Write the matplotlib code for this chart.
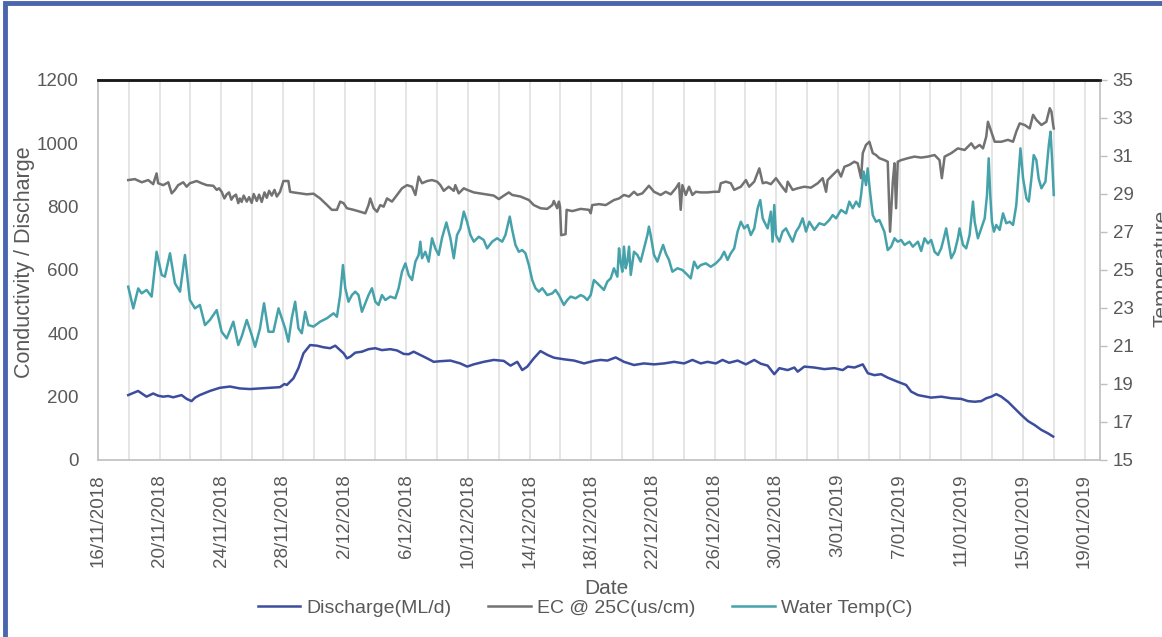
import numpy as np
import pandas as pd
import matplotlib
matplotlib.use('Agg')
import matplotlib.pyplot as plt
from matplotlib.patches import Rectangle
from matplotlib.lines import Line2D

plt.rcParams['font.family'] = ['Liberation Sans', 'DejaVu Sans']

START = '2018-11-16'

# Discharge (ML/d): (day offset from 16/11/2018, value)
disc_day = [1.96, 2.3, 2.6, 2.9, 3.15, 3.58, 3.9, 4.23, 4.55, 4.88, 5.42, 5.75, 6.07, 6.3, 6.6, 7.26, 7.9,
            8.56, 9.2, 9.86, 10.5, 11.16, 11.8, 12.1, 12.25, 12.68, 13.0, 13.33, 13.76, 14.2, 14.63, 15.06,
            15.39, 15.7, 15.93, 16.15, 16.36, 16.69, 17.12, 17.55, 17.99, 18.42, 18.96, 19.4, 19.83, 20.15,
            20.48, 20.9, 21.35, 21.78, 22.2, 22.86, 23.5, 23.95, 24.37, 25.02, 25.67, 26.32, 26.76, 27.2,
            27.52, 27.85, 28.27, 28.7, 29.15, 29.58, 30.23, 30.88, 31.53, 32.18, 32.6, 33.05, 33.58, 34.12,
            34.77, 35.42, 36.07, 36.73, 37.37, 38.02, 38.56, 39.1, 39.54, 40.08, 40.51, 40.94, 41.49, 42.03,
            42.57, 43.0, 43.44, 43.87, 44.2, 44.74, 45.17, 45.39, 45.82, 46.47, 47.12, 47.77, 48.31, 48.64,
            49.07, 49.61, 49.94, 50.37, 50.8, 51.23, 51.88, 52.42, 52.75, 53.19, 53.72, 54.05, 54.7, 55.35,
            56.0, 56.43, 56.87, 57.3, 57.62, 57.95, 58.27, 58.6, 59.03, 59.47, 59.9, 60.33, 60.77, 61.2,
            61.63, 61.96]
disc_val = [205, 212, 218, 208, 200, 210, 203, 200, 202, 198, 205, 193, 186, 197, 205, 218, 228,
            232, 226, 224, 226, 228, 230, 240, 237, 258, 290, 337, 363, 361, 356, 353,
            361, 347, 337, 321, 326, 339, 342, 350, 353, 347, 350, 346, 335, 334,
            342, 332, 321, 310, 312, 314, 305, 295, 302, 310, 316, 313, 298, 310,
            284, 295, 321, 344, 332, 323, 318, 314, 305, 313, 316, 314, 324, 310,
            300, 305, 302, 305, 310, 305, 316, 305, 310, 305, 316, 307, 314, 302,
            316, 304, 298, 271, 290, 284, 292, 279, 295, 292, 287, 290, 284, 295,
            292, 302, 274, 268, 271, 260, 247, 237, 216, 205, 200, 197, 200, 195,
            193, 186, 184, 186, 195, 200, 208, 200, 184, 163, 142, 123, 110, 95,
            84, 74]

# EC @ 25C (us/cm)
ec_day = [1.96, 2.39, 2.84, 3.26, 3.58, 3.8, 3.9, 4.23, 4.56, 4.78, 4.99, 5.2, 5.53, 5.75, 5.96, 6.4, 6.72,
          7.05, 7.48, 7.7, 7.85, 8.02, 8.2, 8.35, 8.5, 8.65, 8.78, 8.95, 9.1, 9.2, 9.32, 9.45, 9.65, 9.8,
          9.97, 10.1, 10.3, 10.45, 10.62, 10.8, 10.95, 11.1, 11.27, 11.45, 11.6, 11.81,
          12.03, 12.35, 12.46, 12.68, 13.11, 13.55, 13.98, 14.41, 14.86, 15.17, 15.5, 15.71, 15.93, 16.15,
          16.58, 17.01, 17.34, 17.55, 17.66, 17.88, 18.1, 18.31, 18.53, 18.75, 19.07, 19.4, 19.72, 20.05,
          20.37, 20.59, 20.8, 21.02, 21.35, 21.67, 22.0, 22.21, 22.43, 22.75, 23.08, 23.18, 23.4, 23.73,
          23.95, 24.38, 25.02, 25.67, 26.0, 26.33, 26.65, 26.87, 27.41, 27.95, 28.27, 28.71, 29.14, 29.47,
          29.57, 29.79, 29.9, 29.97, 30.05, 30.33, 30.4, 30.77, 31.31, 31.85, 31.96, 32.06, 32.5, 32.93,
          33.04, 33.47, 33.8, 34.12, 34.45, 34.77, 34.99, 35.31, 35.74, 36.07, 36.5, 36.83, 37.15, 37.48,
          37.69, 37.8, 37.91, 38.13, 38.34, 38.56, 38.78, 39.1, 39.54, 39.97, 40.29, 40.4, 40.73, 41.05,
          41.27, 41.7, 42.03, 42.24, 42.57, 42.9, 43.12, 43.34, 43.65, 43.98, 44.3, 44.63, 44.74, 45.06,
          45.39, 45.82, 46.25, 46.69, 47.01, 47.23, 47.33, 47.66, 47.99, 48.2, 48.42, 48.74, 49.06, 49.28,
          49.5, 49.61, 49.82, 50.04, 50.26, 50.47, 50.69, 51.02, 51.23, 51.38, 51.56, 51.67, 51.77, 51.88,
          52.1, 52.53, 52.96, 53.4, 53.83, 54.27, 54.59, 54.74, 54.92, 55.35, 55.78, 56.22, 56.65, 56.87,
          57.19, 57.41, 57.62, 57.73, 57.95, 58.17, 58.6, 59.03, 59.36, 59.57, 59.79, 60.11, 60.44, 60.66,
          60.87, 61.2, 61.52, 61.74, 61.85, 61.96, 62.0]
ec_val = [884, 887, 877, 884, 871, 905, 874, 868, 877, 842, 853, 868, 877, 863, 874, 881, 874,
          868, 866, 853, 858, 847, 826, 839, 845, 822, 832, 838, 811, 826, 815, 835, 816, 830,
          812, 840, 818, 838, 815, 845, 828, 850, 835, 853, 832, 847,
          881, 881, 847, 845, 842, 839, 841, 826, 805, 790, 790, 816, 811, 795,
          790, 784, 779, 805, 826, 795, 784, 805, 800, 826, 816, 837, 858, 868,
          863, 837, 895, 874, 881, 884, 879, 868, 850, 863, 850, 868, 842, 858,
          853, 845, 840, 835, 824, 835, 845, 837, 832, 821, 805, 795, 793, 805,
          818, 795, 816, 800, 710, 713, 790, 786, 793, 790, 779, 805, 808, 805,
          808, 821, 826, 837, 832, 847, 837, 842, 866, 847, 837, 847, 839, 858,
          874, 790, 868, 837, 863, 837, 847, 845, 845, 847, 847, 874, 879, 874,
          853, 863, 884, 863, 879, 921, 874, 877, 871, 890, 868, 847, 879, 853,
          858, 863, 860, 874, 890, 847, 884, 900, 916, 895, 926, 932, 942, 937,
          890, 969, 995, 1005, 969, 963, 953, 947, 942, 721, 879, 937, 795, 942,
          947, 953, 958, 955, 958, 963, 947, 890, 958, 969, 984, 979, 1000, 984,
          995, 984, 1021, 1068, 1037, 1005, 1005, 1011, 1005, 1037, 1063, 1058, 1047, 1090,
          1074, 1058, 1068, 1111, 1100, 1058, 1047]

# Water Temp (C)
temp_day = [1.96, 2.29, 2.61, 2.83, 3.15, 3.48, 3.8, 4.13, 4.34, 4.67, 4.99, 5.32, 5.64, 5.96, 6.29, 6.61,
            6.94, 7.26, 7.7, 8.02, 8.35, 8.78, 9.1, 9.32, 9.65, 9.97, 10.19, 10.51, 10.77, 11.06, 11.38,
            11.71, 12.14, 12.35, 12.57, 12.79, 13.0, 13.22, 13.44, 13.65, 13.98, 14.41, 14.85, 15.28, 15.5,
            15.71, 15.89, 16.04, 16.25, 16.47, 16.69, 16.9, 17.12, 17.34, 17.55, 17.77, 17.99, 18.2, 18.42,
            18.64, 18.96, 19.29, 19.5, 19.72, 19.94, 20.15, 20.37, 20.59, 20.8, 20.91, 21.02, 21.23, 21.45,
            21.67, 21.88, 22.1, 22.32, 22.6, 22.86, 23.08, 23.29, 23.51, 23.73, 23.94, 24.16, 24.38, 24.7,
            25.02, 25.24, 25.57, 25.89, 26.22, 26.43, 26.71, 26.87, 27.08, 27.3, 27.52, 27.73, 27.95, 28.17,
            28.38, 28.6, 28.82, 29.14, 29.47, 29.68, 29.9, 30.22, 30.44, 30.66, 30.98, 31.31, 31.52, 31.74,
            31.96, 32.17, 32.39, 32.61, 32.82, 33.04, 33.26, 33.47, 33.69, 33.8, 33.9, 34.01, 34.12, 34.23,
            34.34, 34.45, 34.56, 34.77, 34.99, 35.2, 35.42, 35.64, 35.74, 35.85, 36.07, 36.29, 36.5, 36.66,
            36.83, 37.04, 37.26, 37.59, 37.91, 38.24, 38.45, 38.67, 38.89, 39.1, 39.43, 39.75, 40.08, 40.4,
            40.62, 40.84, 41.05, 41.27, 41.49, 41.7, 41.92, 42.14, 42.35, 42.57, 42.79, 42.96, 43.12, 43.22,
            43.44, 43.65, 43.76, 43.87, 43.98, 44.2, 44.41, 44.63, 44.84, 45.06, 45.28, 45.49, 45.71, 45.93,
            46.14, 46.47, 46.79, 47.12, 47.44, 47.66, 47.88, 48.2, 48.53, 48.74, 48.96, 49.18, 49.39, 49.5,
            49.67, 49.82, 49.93, 50.08, 50.26, 50.47, 50.69, 51.01, 51.23, 51.45, 51.67, 51.88, 52.1, 52.32,
            52.64, 52.86, 53.19, 53.4, 53.62, 53.84, 54.05, 54.27, 54.49, 54.7, 54.92, 55.02, 55.13, 55.35,
            55.57, 55.78, 55.89, 56.11, 56.32, 56.54, 56.76, 56.87, 57.08, 57.3, 57.52, 57.67, 57.78, 57.88,
            57.99, 58.12, 58.27, 58.49, 58.71, 58.92, 59.14, 59.36, 59.57, 59.73, 59.84, 60.01, 60.23, 60.38,
            60.55, 60.7, 60.87, 61.02, 61.2, 61.46, 61.68, 61.79, 61.9, 62.0]
temp_val = [24.12, 22.98, 24.03, 23.77, 23.95, 23.6, 25.96, 24.74, 24.65, 25.88, 24.3, 23.86, 25.79, 23.42, 22.98, 23.16,
            22.1, 22.37, 22.89, 21.75, 21.4, 22.28, 21.05, 21.49, 22.37, 21.58, 20.96, 21.93, 23.25, 21.75, 21.75,
            22.98, 21.93, 21.23, 22.46, 23.33, 21.93, 21.67, 22.8, 22.1, 22.02, 22.28, 22.46, 22.72, 22.54,
            23.68, 25.26, 24.04, 23.33, 23.68, 23.86, 23.68, 22.8, 23.25, 23.68, 24.04, 23.33, 23.16, 23.68,
            23.42, 23.6, 23.51, 24.04, 24.91, 25.35, 24.74, 24.47, 25.44, 25.79, 26.49, 25.62, 25.96, 25.44,
            26.67, 26.14, 25.79, 26.7, 27.5, 26.67, 25.62, 26.84, 27.19, 28.07, 27.54, 26.84, 26.49, 26.75,
            26.58, 26.14, 26.49, 26.67, 26.49, 26.84, 27.81, 27.11, 26.32, 25.96, 26.05, 25.88, 25.26, 24.47,
            24.04, 23.86, 24.04, 23.68, 23.77, 23.95, 23.68, 23.16, 23.42, 23.6, 23.51, 23.68, 23.6, 23.42,
            23.68, 24.47, 24.3, 24.12, 23.95, 24.39, 24.56, 25.09, 24.65, 26.14, 25.44, 24.91, 26.23, 25.09,
            25.44, 26.23, 24.74, 25.96, 25.79, 25.44, 26.14, 26.84, 27.28, 26.84, 25.79, 25.44, 25.96, 26.32,
            25.88, 25.53, 24.91, 25.09, 25.0, 24.74, 24.56, 25.44, 25.09, 25.26, 25.35, 25.17, 25.35, 25.62,
            25.96, 25.53, 25.88, 26.14, 27.02, 27.54, 27.19, 27.37, 26.84, 27.19, 28.25, 28.68, 27.72, 27.54,
            27.19, 28.07, 26.49, 28.42, 26.84, 26.49, 27.02, 27.19, 26.84, 26.49, 27.02, 27.28, 27.72, 27.02,
            27.54, 27.11, 27.46, 27.37, 27.63, 27.89, 27.72, 28.16, 27.98, 28.6, 28.25, 28.6, 28.33, 28.95,
            30.18, 29.47, 30.35, 29.12, 27.89, 27.54, 27.63, 27.02, 26.05, 26.23, 26.67, 26.49, 26.58, 26.32,
            26.49, 26.23, 26.49, 26.0, 26.67, 26.4, 26.58, 25.96, 25.79, 26.14, 26.84, 27.19, 26.67, 25.62,
            25.96, 26.67, 27.19, 26.32, 26.14, 26.84, 28.6, 27.54, 26.67, 27.19, 27.72, 28.95, 30.88, 28.95,
            27.54, 27.02, 27.37, 27.11, 27.98, 27.46, 27.54, 27.37, 28.42, 30.18, 31.4, 29.82, 28.77, 28.6,
            29.82, 31.05, 30.79, 29.82, 29.3, 29.65, 31.58, 32.28, 30.7, 28.95]

series_names = ['Discharge(ML/d)', 'EC @ 25C(us/cm)', 'Water Temp(C)']
left_ticks = [0, 200, 400, 600, 800, 1000, 1200]
right_ticks = [15, 17, 19, 21, 23, 25, 27, 29, 31, 33, 35]
label_days = list(range(0, 65, 4))
grid_days = list(range(2, 65, 2))

start = pd.Timestamp(START)


def to_dates(days):
    return start + pd.to_timedelta(np.asarray(days, dtype=float), unit='D')


TXT = '#595959'
FS = 13.5
C_DISC = '#3c4d9d'
C_EC = '#727272'
C_TEMP = '#46a2aa'
LW = 1.8

W, H = 1162, 637
fig = plt.figure(figsize=(W / 100, H / 100), dpi=100)
fig.patch.set_facecolor('white')
ax = fig.add_axes([98 / W, (H - 460) / H, (1100 - 98) / W, (460 - 80) / H])
ax2 = ax.twinx()

ax.plot(to_dates(disc_day), disc_val, color=C_DISC, lw=LW, zorder=3)
ax.plot(to_dates(ec_day), ec_val, color=C_EC, lw=LW, zorder=3)
ax2.plot(to_dates(temp_day), temp_val, color=C_TEMP, lw=LW, zorder=3)

ax.set_xlim(start, start + pd.Timedelta(days=65))
ax.set_ylim(0, 1200)
ax2.set_ylim(15, 35)

# vertical gridlines every 2 days
for g in to_dates(grid_days):
    ax.axvline(g, color='#e3e3e3', lw=1.3, zorder=1)

xt = to_dates(label_days)
ax.set_xticks(xt)
ax.set_xticklabels([f"{d.day}/{d.month:02d}/{d.year}" for d in xt], rotation=90,
                   fontsize=FS, color=TXT)
ax.tick_params(axis='x', length=0, pad=10)

ax.set_yticks(left_ticks)
ax.set_yticklabels([str(v) for v in left_ticks], fontsize=FS, color=TXT)
ax.tick_params(axis='y', length=0, pad=14)

ax2.set_yticks(right_ticks)
ax2.set_yticklabels([str(v) for v in right_ticks], fontsize=FS, color=TXT)
ax2.tick_params(axis='y', length=5, width=1, color='#bfbfbf', pad=4)

for a in (ax, ax2):
    for s in ('left', 'right', 'bottom'):
        a.spines[s].set_color('#bfbfbf')
        a.spines[s].set_linewidth(1.2)
    a.spines['top'].set_color('#1a1a1a')
    a.spines['top'].set_linewidth(1.8)
ax.spines['right'].set_visible(False)
ax2.spines['left'].set_visible(False)
ax2.spines['bottom'].set_visible(False)

fig.text(25 / W, 1 - 262 / H, 'Conductivity / Discharge', fontsize=15.5, color=TXT,
         rotation=90, ha='center', va='center')
fig.text(606 / W, 1 - 589 / H, 'Date', fontsize=15, color=TXT, ha='center', va='center')
fig.text(1152 / W, 1 - 268 / H, 'Temperature', fontsize=15, color=TXT, rotation=90,
         ha='left', va='center')

handles = [Line2D([], [], color=C_DISC, lw=LW), Line2D([], [], color=C_EC, lw=LW),
           Line2D([], [], color=C_TEMP, lw=LW)]
leg = fig.legend(handles, series_names, loc='center', bbox_to_anchor=(585 / W, 1 - 608 / H),
                 ncol=3, frameon=False, fontsize=14, handlelength=2.2, handletextpad=0.3,
                 columnspacing=1.9)
for t in leg.get_texts():
    t.set_color(TXT)

fig.patches.append(Rectangle((5 / W, -0.05), 1.2, 1.05 - 3 / H, transform=fig.transFigure,
                             fill=False, edgecolor='#4a66ac', lw=3.5, zorder=10))

fig.savefig('out.png', dpi=100)
